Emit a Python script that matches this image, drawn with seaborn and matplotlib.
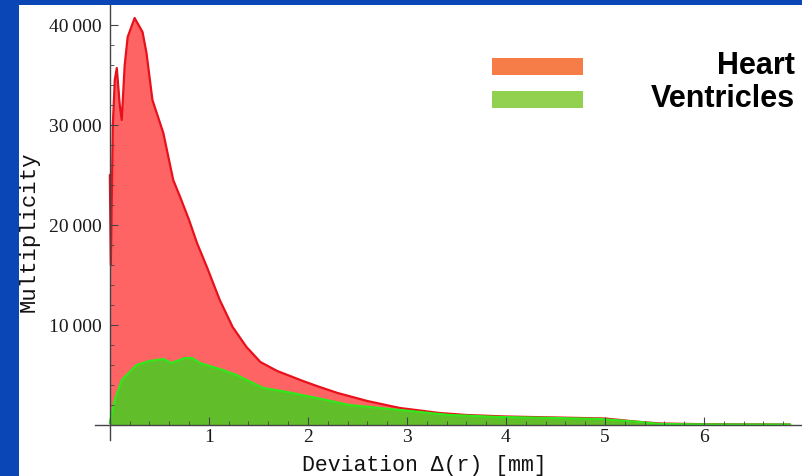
import numpy as np
import pandas as pd
import matplotlib
matplotlib.use('Agg')
import matplotlib.pyplot as plt
from matplotlib.patches import Rectangle
from matplotlib.ticker import FixedLocator
import seaborn as sns

# Heart curve (deviation in mm, multiplicity)
heart_x = [0, 0.01, 0.03, 0.05, 0.07, 0.10, 0.12, 0.15, 0.18, 0.25, 0.33, 0.37, 0.43,
           0.54, 0.64, 0.71, 0.80, 0.88, 0.98, 1.11, 1.24, 1.38, 1.52, 1.69, 1.95, 2.09,
           2.30, 2.60, 2.93, 3.33, 3.60, 4.00, 4.50, 5.00, 5.30, 5.56, 6.00, 6.50, 6.87]
heart_y = [25000, 16000, 30000, 34500, 35700, 32000, 30500, 36000, 38800, 40700, 39300,
           37200, 32500, 29200, 24500, 22800, 20500, 18200, 15800, 12500, 9800, 7800,
           6300, 5400, 4400, 3900, 3200, 2400, 1700, 1200, 1000, 850, 750, 650, 350, 150,
           80, 60, 50]

# Ventricles curve
vent_x = [0, 0.05, 0.12, 0.27, 0.40, 0.54, 0.62, 0.76, 0.83, 0.91, 1.14, 1.28,
          1.55, 1.79, 2.09, 2.42, 2.93, 3.43, 3.94, 4.50, 4.95, 5.35, 5.56, 6.00, 6.50, 6.87]
vent_y = [200, 2500, 4500, 6000, 6400, 6600, 6200, 6700, 6700, 6200, 5500, 5000,
          3700, 3300, 2700, 2000, 1500, 1000, 800, 700, 600, 300, 100, 60, 50, 50]

x_ticks = [1, 2, 3, 4, 5, 6]
y_ticks = [10000, 20000, 30000, 40000]
y_tick_labels = ['10\u2009000', '20\u2009000', '30\u2009000', '40\u2009000']
legend_labels = ['Heart', 'Ventricles']
legend_colors = ['#f77d48', '#92d050']

sns.set_style('white')
plt.rcParams['font.family'] = ['Liberation Serif', 'DejaVu Serif']

heart = pd.DataFrame({'x': heart_x, 'y': heart_y})
vent = pd.DataFrame({'x': vent_x, 'y': vent_y})

fig = plt.figure(figsize=(8.03, 4.76), dpi=100)
fig.patch.set_facecolor('#0b46b6')
fig.patches.append(Rectangle((19 / 803, 0), 1, (476 - 5) / 476, transform=fig.transFigure,
                             facecolor='white', edgecolor='none', zorder=-5))

ax = fig.add_axes([95 / 803, 36 / 476, 708 / 803, 435 / 476])
ax.patch.set_alpha(0)

ax.fill_between(heart['x'], heart['y'], color='#ff6464', linewidth=0)
sns.lineplot(data=heart, x='x', y='y', ax=ax, color='#e8101a', linewidth=1.6, sort=False)
ax.fill_between(vent['x'], vent['y'], color='#62bd2b', linewidth=0)
sns.lineplot(data=vent, x='x', y='y', ax=ax, color='#30e81a', linewidth=1.6, sort=False)

ax.set_xlim(-0.15, 7.0)
ax.set_ylim(-1500, 42000)
ax.set_axisbelow(False)
for s in ['top', 'right']:
    ax.spines[s].set_visible(False)
ax.spines['left'].set_position(('data', 0))
ax.spines['bottom'].set_position(('data', 0))
for s in ['left', 'bottom']:
    ax.spines[s].set_color('#444444')
    ax.spines[s].set_linewidth(1.0)

ax.xaxis.set_major_locator(FixedLocator(x_ticks))
ax.xaxis.set_minor_locator(FixedLocator([v / 5 for v in range(1, 35) if v % 5]))
ax.yaxis.set_major_locator(FixedLocator(y_ticks))
ax.yaxis.set_minor_locator(FixedLocator([v for v in range(2000, 42000, 2000) if v % 10000]))
ax.set_yticklabels(y_tick_labels)
ax.tick_params(which='both', bottom=True, left=True, top=False, right=False)
ax.tick_params(which='major', direction='in', length=6, width=0.8, color='#444444',
               labelsize=14, labelcolor='#1a1a1a', pad=5)
ax.tick_params(which='minor', direction='in', length=3, width=0.6, color='#444444')
ax.tick_params(axis='y', which='major', pad=6)
ax.tick_params(axis='x', which='major', pad=3)

ax.set_xlabel('')
ax.set_ylabel('')
fig.text(424 / 803, 1 - 465 / 476, 'Deviation \u0394(r) [mm]', family='Liberation Mono',
         fontsize=15.5, ha='center', va='center', color='#111111')
fig.text(29 / 803, 1 - 232 / 476, 'Multiplicity', family='Liberation Mono',
         fontsize=16, ha='center', va='center', rotation=90, color='#111111')

# legend
for i, (lab, col) in enumerate(zip(legend_labels, legend_colors)):
    ytop = 58 + i * 33
    fig.patches.append(Rectangle((492 / 803, 1 - (ytop + 17) / 476), 91 / 803, 17 / 476,
                                 transform=fig.transFigure, facecolor=col, edgecolor='none'))
    fig.text(795 / 803, 1 - (ytop + 8) / 476, lab, family='Liberation Sans', weight='bold',
             fontsize=22, ha='right', va='center', color='black')

fig.savefig('out.png', dpi=100, facecolor=fig.get_facecolor())
